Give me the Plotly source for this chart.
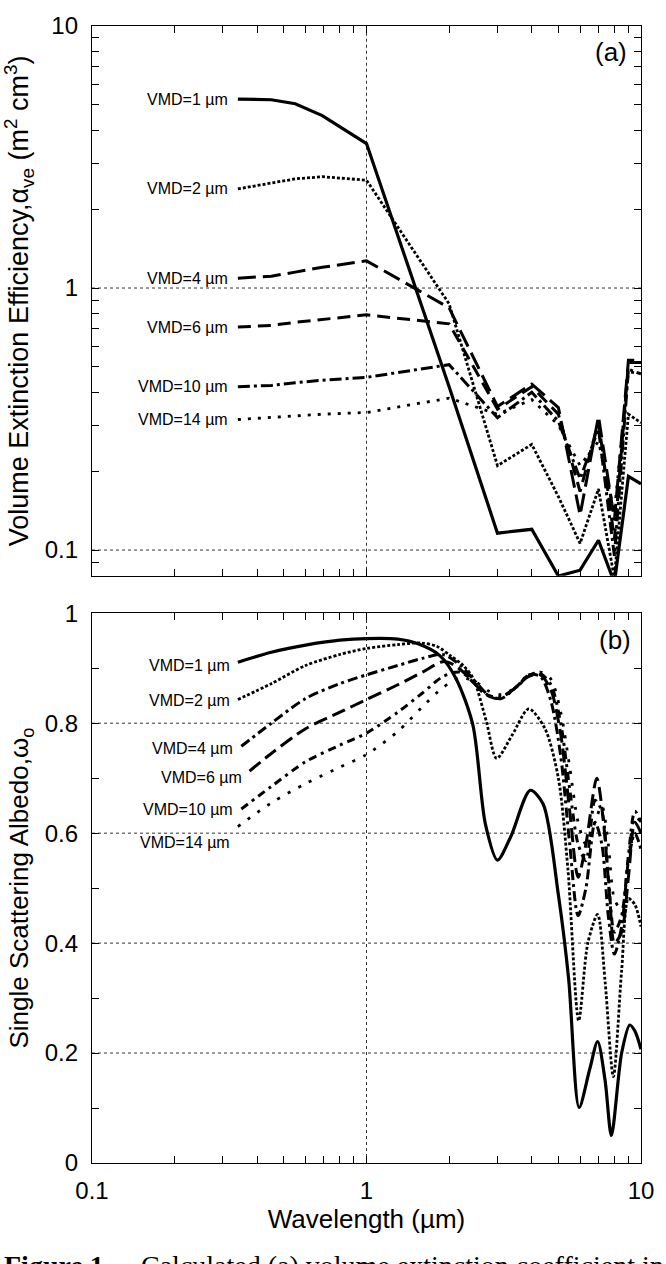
import math
import plotly.graph_objects as go

# ---------------- data: panel (a) volume extinction efficiency ----------------
wl_a = [0.34, 0.45, 0.55, 0.69, 1.0, 2.0, 3.0, 4.0, 5.0, 6.0, 7.0, 8.0, 9.0, 10.0]
ext_vmd1 = [5.26, 5.23, 5.05, 4.55, 3.56, 0.42, 0.116, 0.120, 0.0796, 0.0838, 0.109, 0.075, 0.191, 0.179]
ext_vmd2 = [2.39, 2.52, 2.61, 2.66, 2.58, 0.87, 0.210, 0.253, 0.160, 0.106, 0.171, 0.078, 0.330, 0.306]
ext_vmd4 = [1.09, 1.11, 1.15, 1.20, 1.27, 0.84, 0.353, 0.430, 0.350, 0.136, 0.324, 0.130, 0.530, 0.530]
ext_vmd6 = [0.71, 0.72, 0.74, 0.76, 0.79, 0.73, 0.345, 0.420, 0.330, 0.167, 0.310, 0.110, 0.520, 0.520]
ext_vmd10 = [0.42, 0.425, 0.435, 0.445, 0.456, 0.51, 0.320, 0.400, 0.310, 0.187, 0.290, 0.095, 0.490, 0.470]
ext_vmd14 = [0.315, 0.32, 0.325, 0.33, 0.335, 0.38, 0.330, 0.375, 0.300, 0.210, 0.260, 0.140, 0.480, 0.470]

# ---------------- data: panel (b) single scattering albedo ----------------
wl_b1 = [0.34, 0.45, 0.6, 0.8, 1.0, 1.3, 1.55, 1.85, 2.12, 2.44, 2.71, 3.0, 3.35, 3.95, 4.4, 5.0,
         5.45, 5.95, 6.5, 6.95, 7.4, 7.8, 8.5, 9.1, 9.5, 10.0]
alb_vmd1 = [0.911, 0.929, 0.942, 0.951, 0.954, 0.953, 0.944, 0.923, 0.881, 0.797, 0.617, 0.551, 0.593,
            0.678, 0.653, 0.488, 0.335, 0.101, 0.170, 0.221, 0.150, 0.050, 0.200, 0.251, 0.240, 0.207]

wl_b2 = [0.34, 0.45, 0.6, 0.8, 1.0, 1.3, 1.58, 1.8, 2.02, 2.25, 2.45, 2.73, 2.98, 3.39, 3.9, 4.47,
         5.0, 5.42, 5.93, 6.4, 6.95, 7.4, 7.93, 8.5, 9.0, 9.5, 10.0]
alb_vmd2 = [0.843, 0.872, 0.905, 0.925, 0.936, 0.943, 0.946, 0.940, 0.923, 0.905, 0.881, 0.804, 0.736,
            0.778, 0.826, 0.790, 0.700, 0.533, 0.259, 0.400, 0.452, 0.330, 0.157, 0.350, 0.481, 0.470, 0.430]

wl_b4 = [0.35, 0.45, 0.6, 0.8, 1.0, 1.3, 1.6, 1.9, 2.2, 2.5, 2.8, 3.1, 3.5, 3.9, 4.3, 4.7, 5.1,
         5.5, 5.9, 6.3, 6.8, 7.2, 7.6, 8.0, 8.5, 9.0, 9.5, 10.0]
alb_vmd4 = [0.758, 0.800, 0.845, 0.872, 0.888, 0.905, 0.918, 0.925, 0.905, 0.875, 0.850, 0.845, 0.865,
            0.888, 0.885, 0.840, 0.740, 0.580, 0.450, 0.500, 0.620, 0.580, 0.450, 0.380, 0.430, 0.550,
            0.600, 0.570]

wl_b6 = [0.375, 0.45, 0.6, 0.8, 1.0, 1.3, 1.6, 1.9, 2.1, 2.4, 2.7, 3.0, 3.4, 3.9, 4.3, 4.7, 5.1,
         5.5, 5.9, 6.3, 6.9, 7.3, 7.7, 8.0, 8.5, 9.0, 9.5, 10.0]
alb_vmd6 = [0.713, 0.745, 0.790, 0.820, 0.843, 0.870, 0.893, 0.912, 0.905, 0.880, 0.853, 0.845, 0.860,
            0.885, 0.888, 0.860, 0.780, 0.640, 0.520, 0.580, 0.700, 0.620, 0.480, 0.400, 0.420, 0.520,
            0.620, 0.600]

wl_b10 = [0.35, 0.45, 0.6, 0.8, 1.0, 1.3, 1.6, 1.9, 2.2, 2.5, 2.8, 3.1, 3.5, 3.9, 4.3, 4.7, 5.1,
          5.5, 5.9, 6.3, 6.8, 7.2, 7.6, 8.0, 8.5, 9.0, 9.5, 10.0]
alb_vmd10 = [0.644, 0.685, 0.730, 0.760, 0.782, 0.820, 0.855, 0.885, 0.893, 0.870, 0.850, 0.848, 0.865,
             0.888, 0.890, 0.870, 0.800, 0.680, 0.580, 0.550, 0.660, 0.640, 0.520, 0.420, 0.450, 0.560,
             0.640, 0.620]

wl_b14 = [0.34, 0.45, 0.6, 0.8, 1.0, 1.3, 1.6, 1.9, 2.2, 2.5, 2.8, 3.1, 3.5, 3.9, 4.3, 4.7, 5.1,
          5.5, 5.9, 6.3, 6.8, 7.2, 7.6, 8.0, 8.5, 9.0, 9.5, 10.0]
alb_vmd14 = [0.612, 0.655, 0.690, 0.720, 0.743, 0.785, 0.830, 0.865, 0.883, 0.875, 0.858, 0.852, 0.865,
             0.885, 0.893, 0.880, 0.820, 0.720, 0.620, 0.580, 0.620, 0.650, 0.580, 0.480, 0.460, 0.550,
             0.630, 0.620]

labels = ["VMD=1 µm", "VMD=2 µm", "VMD=4 µm", "VMD=6 µm", "VMD=10 µm", "VMD=14 µm"]

# ticks (labelled ones carry text, the rest are unlabelled minor ticks)
x_tickvals = [0.1, 0.2, 0.3, 0.4, 0.5, 0.6, 0.7, 0.8, 0.9, 1, 2, 3, 4, 5, 6, 7, 8, 9, 10]
x_ticktext = ["0.1", "", "", "", "", "", "", "", "", "1", "", "", "", "", "", "", "", "", "10"]
ya_tickvals = [0.08, 0.09, 0.1, 0.2, 0.3, 0.4, 0.5, 0.6, 0.7, 0.8, 0.9, 1, 2, 3, 4, 5, 6, 7, 8, 9, 10]
ya_ticktext = ["", "", "0.1", "", "", "", "", "", "", "", "", "1", "", "", "", "", "", "", "", "", "10"]
yb_tickvals = [0, 0.1, 0.2, 0.3, 0.4, 0.5, 0.6, 0.7, 0.8, 0.9, 1.0]
yb_ticktext = ["0", "", "0.2", "", "0.4", "", "0.6", "", "0.8", "", "1"]

# dashed reference grid lines
x_grid = [1]
ya_grid = [0.1, 1]
yb_grid = [0.2, 0.4, 0.6, 0.8]

# ---------------- styling ----------------
FONT = "Liberation Sans, Arial, Helvetica, sans-serif"
SERIF = "Liberation Serif, Times New Roman, serif"
dash_a = ["solid", "3px,2px", "18px,7px", "13px,7px", "12px,4px,3px,4px", "3px,7px"]
dash_b = ["solid", "3px,2px", "10px,4px,3px,4px", "14px,6px", "8px,5px,3px,5px", "3px,9px"]
width_a = [3.2, 2.8, 3.0, 3.0, 3.0, 2.8]
width_b = [3.2, 2.8, 3.0, 3.0, 3.0, 2.8]
lab_yshift_a = [0, 0, 0, 0, 0, 0]
lab_yshift_b = [-3, -1, -2, -6, -1, -16]
GRID = dict(color="#333333", width=1, dash="3px,3px")

fig = go.Figure()

series_a = [ext_vmd1, ext_vmd2, ext_vmd4, ext_vmd6, ext_vmd10, ext_vmd14]
for i, ys in enumerate(series_a):
    fig.add_trace(go.Scatter(x=wl_a, y=ys, mode="lines", xaxis="x", yaxis="y",
                             line=dict(color="black", width=width_a[i], dash=dash_a[i]),
                             showlegend=False))

series_b = [(wl_b1, alb_vmd1), (wl_b2, alb_vmd2), (wl_b4, alb_vmd4),
            (wl_b6, alb_vmd6), (wl_b10, alb_vmd10), (wl_b14, alb_vmd14)]
for i, (xs, ys) in enumerate(series_b):
    fig.add_trace(go.Scatter(x=xs, y=ys, mode="lines", xaxis="x2", yaxis="y2",
                             line=dict(color="black", width=width_b[i], dash=dash_b[i],
                                       shape="spline", smoothing=0.8),
                             showlegend=False))

shapes = []
for gx in x_grid:
    shapes.append(dict(type="line", xref="x", yref="y domain", x0=gx, x1=gx, y0=0, y1=1,
                       line=GRID, layer="below"))
    shapes.append(dict(type="line", xref="x2", yref="y2 domain", x0=gx, x1=gx, y0=0, y1=1,
                       line=GRID, layer="below"))
for gy in ya_grid:
    shapes.append(dict(type="line", xref="x domain", yref="y", x0=0, x1=1, y0=gy, y1=gy,
                       line=GRID, layer="below"))
for gy in yb_grid:
    shapes.append(dict(type="line", xref="x2 domain", yref="y2", x0=0, x1=1, y0=gy, y1=gy,
                       line=GRID, layer="below"))

annotations = []
for i, ys in enumerate(series_a):
    annotations.append(dict(x=math.log10(wl_a[0]), y=math.log10(ys[0]), xref="x", yref="y",
                            text=labels[i], showarrow=False, xanchor="right", yanchor="middle",
                            xshift=-8, yshift=lab_yshift_a[i],
                            font=dict(family=FONT, size=16, color="black")))
for i, (xs, ys) in enumerate(series_b):
    annotations.append(dict(x=math.log10(xs[0]), y=ys[0], xref="x2", yref="y2",
                            text=labels[i], showarrow=False, xanchor="right", yanchor="middle",
                            xshift=-6, yshift=lab_yshift_b[i],
                            font=dict(family=FONT, size=16, color="black")))

annotations.append(dict(x=0.946, y=0.953, xref="x domain", yref="y domain", text="(a)",
                        showarrow=False, xanchor="center", yanchor="middle",
                        font=dict(family=FONT, size=26, color="black")))
annotations.append(dict(x=0.953, y=0.951, xref="x2 domain", yref="y2 domain", text="(b)",
                        showarrow=False, xanchor="center", yanchor="middle",
                        font=dict(family=FONT, size=26, color="black")))
# partially visible figure caption at the bottom edge (cut off as in the source)
annotations.append(dict(x=-0.1646, y=-0.0905, xref="paper", yref="paper", text="<b>Figure 1.</b>",
                        showarrow=False, xanchor="left", yanchor="middle",
                        font=dict(family=SERIF, size=28, color="black")))
annotations.append(dict(x=0.0859, y=-0.0905, xref="paper", yref="paper",
                        text="Calculated (a) volume extinction coefficient in",
                        showarrow=False, xanchor="left", yanchor="middle",
                        font=dict(family=SERIF, size=28, color="black")))

common_axis = dict(showline=True, linecolor="black", linewidth=1.3, mirror="ticks",
                   ticks="inside", ticklen=7, tickwidth=1, tickcolor="black",
                   showgrid=False, zeroline=False,
                   tickfont=dict(family=FONT, size=24, color="black"))

fig.update_layout(
    width=666, height=1264,
    margin=dict(l=92, r=15, t=13, b=101),
    paper_bgcolor="white", plot_bgcolor="white",
    font=dict(family=FONT, color="black"),
    annotations=annotations,
    shapes=shapes,
    xaxis=dict(type="log", range=[-1, 1], domain=[0, 1], anchor="y",
               tickmode="array", tickvals=x_tickvals, ticktext=x_ticktext, showticklabels=False,
               **common_axis),
    yaxis=dict(type="log", range=[-1.098, 1], domain=[0.5165, 1.0], anchor="x",
               tickmode="array", tickvals=ya_tickvals, ticktext=ya_ticktext, ticklabelstandoff=8,
               title=dict(text="Volume Extinction Efficiency,α<sub>ve</sub> (m<sup>2</sup> cm<sup>3</sup>)",
                          font=dict(family=FONT, size=27, color="black"), standoff=8),
               **common_axis),
    xaxis2=dict(type="log", range=[-1, 1], domain=[0, 1], anchor="y2",
                tickmode="array", tickvals=x_tickvals, ticktext=x_ticktext, ticklabelstandoff=6,
                title=dict(text="Wavelength (µm)", font=dict(family=FONT, size=26, color="black"),
                           standoff=2),
                **common_axis),
    yaxis2=dict(range=[0, 1], domain=[0, 0.4835], anchor="x2",
                tickmode="array", tickvals=yb_tickvals, ticktext=yb_ticktext, ticklabelstandoff=8,
                title=dict(text="Single Scattering Albedo,ω<sub>o</sub>",
                           font=dict(family=FONT, size=26, color="black"), standoff=8),
                **common_axis),
)

fig.write_html("out.html", config={"displayModeBar": False},
               post_script="document.body.style.margin='0';")
